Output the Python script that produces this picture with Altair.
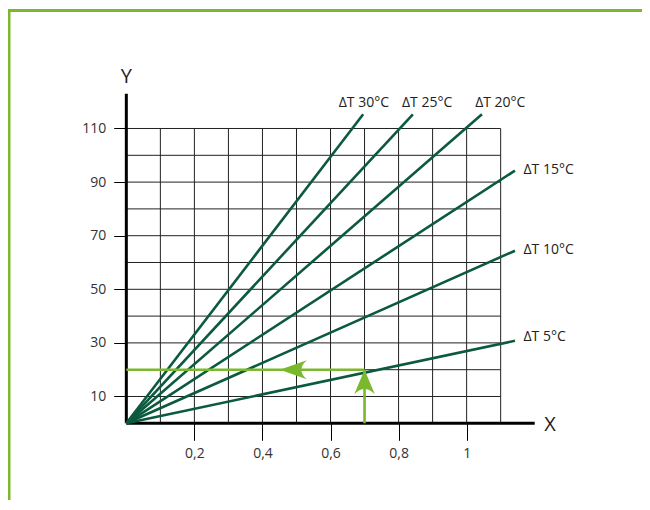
import altair as alt
import pandas as pd

# ---- data ----
dt_labels = ["ΔT 5°C", "ΔT 10°C", "ΔT 15°C", "ΔT 20°C", "ΔT 25°C", "ΔT 30°C"]
end_x = [1.142, 1.142, 1.142, 1.045, 0.842, 0.696]
end_y = [30.8, 64.4, 94.3, 115.3, 115.3, 115.3]
label_x = [1.167, 1.167, 1.167, 1.025, 0.810, 0.624]
label_y = [30.8, 63.2, 93.0, 118.0, 118.0, 118.0]

x_ticks = [0.2, 0.4, 0.6, 0.8, 1.0]
y_ticks = [10, 30, 50, 70, 90, 110]
x_grid = [0.1, 0.2, 0.3, 0.4, 0.5, 0.6, 0.7, 0.8, 0.9, 1.0, 1.1]
y_grid = [10, 20, 30, 40, 50, 60, 70, 80, 90, 100, 110]
grid_x_max = 1.1
grid_y_max = 110
axis_x_max = 1.2
axis_y_max = 123

read_x = 0.7
read_y = 20
arrow_tip_x = 0.451

# ---- scales ----
X_DOMAIN = [-0.3389, 1.5153]
Y_DOMAIN = [-28.62, 153.843]
xs = alt.Scale(domain=X_DOMAIN, nice=False, zero=False)
ys = alt.Scale(domain=Y_DOMAIN, nice=False, zero=False)

FONT = "Open Sans"
DARK = "#0b5a3e"
GREEN = "#7ab82e"

x_axis = alt.Axis(values=x_ticks, orient="bottom", offset=-76.7, domain=False, grid=False,
                  tickSize=17, tickColor="black", tickWidth=1,
                  labelExpr="replace(format(datum.value, '.1~f'), '.', ',')",
                  labelFont=FONT, labelFontSize=14, labelColor="#333", labelPadding=6,
                  labelFlush=False, labelOverlap=False, title=None)
y_axis = alt.Axis(values=y_ticks, orient="left", offset=-115.7, domain=False, grid=False,
                  tickSize=13, tickColor="black", tickWidth=1,
                  labelFont=FONT, labelFontSize=14, labelColor="#333", labelPadding=8,
                  labelFlush=False, labelOverlap=False, title=None)


def xy():
    return dict(
        x=alt.X("x:Q", scale=xs, axis=x_axis, title=None),
        y=alt.Y("y:Q", scale=ys, axis=y_axis, title=None),
    )


def seg_enc():
    d = xy()
    d.update(x2="x2:Q", y2="y2:Q")
    return d


grid_rows = [dict(x=g, y=0, x2=g, y2=grid_y_max) for g in x_grid] + \
            [dict(x=0, y=g, x2=grid_x_max, y2=g) for g in y_grid]
grid = alt.Chart(pd.DataFrame(grid_rows)).mark_rule(color="#222", strokeWidth=1).encode(**seg_enc())

axes_df = pd.DataFrame([dict(x=0, y=0, x2=axis_x_max, y2=0), dict(x=0, y=0, x2=0, y2=axis_y_max)])
axes_lines = alt.Chart(axes_df).mark_rule(color="black", strokeWidth=3).encode(**seg_enc())

lines_df = pd.DataFrame(dict(x=[0] * 6, y=[0] * 6, x2=end_x, y2=end_y, label=dt_labels))
dt_lines = alt.Chart(lines_df).mark_rule(color=DARK, strokeWidth=2.6).encode(**seg_enc())

read_df = pd.DataFrame([dict(x=0, y=read_y, x2=read_x, y2=read_y),
                        dict(x=read_x, y=0, x2=read_x, y2=read_y)])
read_lines = alt.Chart(read_df).mark_rule(color=GREEN, strokeWidth=2.6).encode(**seg_enc())

left_head = alt.Chart(pd.DataFrame(dict(x=[arrow_tip_x], y=[read_y]))).mark_point(
    shape="M0,0 L2.7,-0.95 Q1.6,0 2.7,0.95 Z", filled=True, size=400, color=GREEN, opacity=1,
    strokeWidth=0).encode(**xy())
up_head = alt.Chart(pd.DataFrame(dict(x=[read_x], y=[read_y]))).mark_point(
    shape="M0,0 L1.03,2.45 Q0,1.4 -1.03,2.45 Z", filled=True, size=400, color=GREEN, opacity=1,
    strokeWidth=0).encode(**xy())

labels_df = pd.DataFrame(dict(x=label_x, y=label_y, label=dt_labels))
labels = alt.Chart(labels_df).mark_text(align="left", baseline="alphabetic", font=FONT,
                                        fontSize=14, color="#222").encode(
    text="label:N", **xy())

titles_df = pd.DataFrame(dict(x=[0.0, 1.245], y=[129.3, -0.6], t=["Y", "X"]))
titles = alt.Chart(titles_df).mark_text(align="center", baseline="middle", font=FONT,
                                        fontSize=20, color="#222").encode(
    text="t:N", **xy())

frame_df = pd.DataFrame([dict(x=-0.36, y=154.03, x2=1.6, y2=154.03),
                         dict(x=-0.3448, y=154.6, x2=-0.3448, y2=-40)])
frame = alt.Chart(frame_df).mark_rule(color=GREEN, strokeWidth=3).encode(**seg_enc())

chart = alt.layer(grid, axes_lines, dt_lines, read_lines, left_head, up_head, labels, titles,
                  frame).properties(
    width=631, height=489,
    autosize=alt.AutoSizeParams(type="none"),
    padding={"left": 3, "top": 3, "right": 0, "bottom": 0},
    background="white",
).configure_view(stroke=None)

chart.save("out.html", embed_options={"renderer": "svg", "actions": False})
